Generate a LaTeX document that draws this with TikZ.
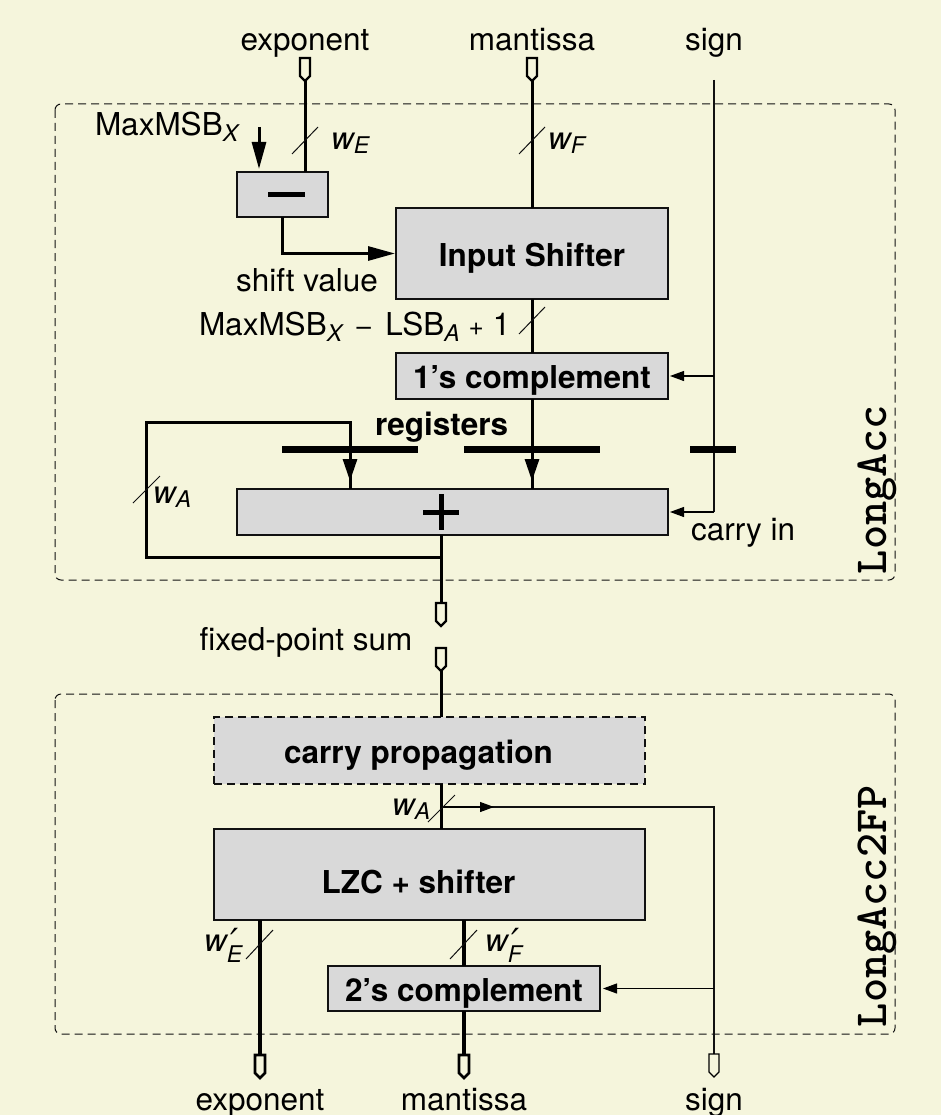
\documentclass[tikz,border=0pt]{standalone}
\usepackage{fontspec}
\setmainfont{TeX Gyre Heros}
\newfontfamily\symf{DejaVu Sans}
\usetikzlibrary{arrows.meta,calc}
\definecolor{pagebg}{HTML}{F5F5DC}
\definecolor{boxgray}{HTML}{D9D9D9}
\definecolor{inkdark}{HTML}{111111}
\newcommand{\fsz}{\fontsize{31.5}{36}\selectfont}
\newcommand{\subf}{\fontsize{23}{24}\selectfont\itshape}
\newcommand{\lowsub}[2][6pt]{\raisebox{-#1}{\subf #2}}
\newcommand{\wid}[1]{\textit{w}\kern-1.5pt\lowsub[4pt]{#1}}
\newcommand{\widp}[1]{\textit{w}\kern-1.5pt\rlap{\raisebox{-3pt}{\kern4pt\fontsize{36}{36}\selectfont\symf\itshape\char"2032}}\lowsub[11pt]{#1}}
\newcommand{\portat}[3][2.3pt]{\draw[line width=#1,fill=pagebg] (#2-5,#3) -- (#2+5,#3) -- (#2+5,#3+18) -- (#2,#3+23) -- (#2-5,#3+18) -- cycle;}
\tikzset{
  x=1pt,y=-1pt,
  txt/.style={font=\fsz,text=black,inner sep=0pt,outer sep=0pt},
  unitbox/.style={draw=inkdark,line width=2pt,fill=boxgray,inner sep=0pt,outer sep=0pt,font=\fsz\bfseries,text height=27pt,text depth=2pt},
  bus/.style={line width=3pt,draw=black},
  fatbus/.style={line width=4.5pt,draw=black},
  thinw/.style={line width=1.1pt,draw=inkdark},
  tickm/.style={line width=1pt,draw=inkdark},
  reg/.style={line width=7pt,draw=black},
  busarrow/.style={line width=3pt,-{Triangle[length=27pt,width=14pt]}},
  regarrow/.style={line width=3pt,-{Triangle[length=22pt,width=14pt]}},
  thinarrow/.style={line width=1.1pt,-{Triangle[length=14pt,width=10pt]}},
  frame/.style={draw=inkdark,line width=1pt,dash pattern=on 8pt off 5pt,rounded corners=6pt},
  tag/.style={font=\fontsize{46}{48}\selectfont\ttfamily\bfseries\addfontfeature{FakeBold=2},inner sep=0pt,outer sep=0pt,rotate=90,anchor=base west}
}
\begin{document}
\begin{tikzpicture}
\path[use as bounding box,fill=pagebg] (0,0) rectangle (941,1115);
% frames
\draw[frame] (55,104) rectangle (895,580);
\draw[frame] (55,694) rectangle (895,1034);
% boxes
\node[unitbox,minimum width=91pt,minimum height=45pt] (sub) at (282.5,194.5) {};
\node[unitbox,minimum width=272pt,minimum height=91pt] (shifter) at (532,253.5) {Input Shifter};
\node[unitbox,minimum width=272pt,minimum height=46pt] (onec) at (532,376) {1’s complement};
\node[unitbox,minimum width=431pt,minimum height=46pt] (adder) at (452.5,512) {};
\node[unitbox,minimum width=431pt,minimum height=67pt,dash pattern=on 8pt off 5pt] (carry) at (429.5,750.5) {\kern-22pt carry propagation};
\node[unitbox,minimum width=431pt,minimum height=91pt,text height=39pt] (lzc) at (429.5,874.5) {\kern-22pt LZC + shifter};
\node[unitbox,minimum width=272pt,minimum height=45pt] (twoc) at (464,988.5) {2’s complement};
% coordinates
\coordinate (pe) at (305,81);
\coordinate (pm) at (532,81);
\coordinate (ps) at (714,80);
\coordinate (mm) at (259,127);
\coordinate (sumA) at (441,603);
\coordinate (sumB) at (441,671);
\coordinate (fbA) at (441,557);
\coordinate (fbB) at (146,557);
\coordinate (fbC) at (146,422);
\coordinate (fbD) at (350,422);
\coordinate (oe) at (260,1055);
\coordinate (om) at (464,1055);
\coordinate (os) at (714,1054);
\coordinate (br) at (441,807);
\coordinate (brs) at (714,807);
% main wires
\draw[bus] (pe) -- (pe |- sub.north);
\draw[busarrow,shorten >=3pt] (mm) -- (mm |- sub.north);
\draw[busarrow,shorten >=1pt] (sub.south) |- (shifter.west);
\draw[bus] (pm) -- (pm |- shifter.north);
\draw[bus] (shifter.south) -- (onec.north);
\draw[bus] (onec.south) -- (adder.north -| onec.south);
\draw[regarrow,shorten >=8pt] (onec.south) -- (adder.north -| onec.south);
\draw[bus] (adder.south -| sumA) -- (sumA);
\draw[bus] (fbA) -- (fbB) -- (fbC) -- (fbD) -- (fbD |- adder.north);
\draw[regarrow,shorten >=8pt] (fbD) -- (fbD |- adder.north);
\draw[bus] (sumB) -- (sumB |- carry.north);
\draw[bus] (carry.south -| br) -- (lzc.north -| br);
\draw[fatbus] (lzc.south -| oe) -- (oe);
\draw[fatbus] (lzc.south -| om) -- (twoc.north);
\draw[fatbus] (twoc.south) -- (om);
% sign wires
\draw[thinw] (ps) -- (brs |- adder.east) coordinate (ca);
\draw[thinarrow,shorten >=2pt] (ps |- onec.east) -- (onec.east);
\draw[thinarrow,shorten >=2pt] (ca) -- (adder.east);
\draw[thinw] (br) -- (brs) -- (os);
\draw[thinarrow] (br) -- (494,807);
\draw[thinarrow,shorten >=3pt] (os |- twoc.east) -- (twoc.east);
% registers
\draw[reg] (282,449) -- (418,449);
\draw[reg] (464,449) -- (600,449);
\draw[reg] (690,449) -- (736,449);
% operators
\draw[line width=5pt] (268,195) -- (305,195);
\draw[line width=5pt] (423,512) -- (459,512);
\draw[line width=5pt] (441,494) -- (441,530);
% ticks
\draw[tickm] (292,154) -- (318,127);
\draw[tickm] (519,154) -- (545,127);
\draw[tickm] (519,334) -- (545,307);
\draw[tickm] (133,503) -- (160,476);
\draw[tickm] (428,822) -- (455,795);
\draw[tickm] (246,959) -- (273,930);
\draw[tickm] (450,959) -- (477,930);
% ports
\portat{305}{58}
\portat{532}{58}
\portat{441}{603}
\portat{441}{648}
\portat[2.6pt]{260}{1055}
\portat[2.6pt]{464}{1055}
\portat[1.1pt]{714}{1054}
% labels
\node[txt,anchor=base] (t1) at (305,51) {exponent};
\node[txt,anchor=base] (t2) at (532,51) {mantissa};
\node[txt,anchor=base] (t3) at (714,51) {sign};
\node[txt,anchor=base west] (t4) at (95,136) {MaxMSB\lowsub{X}};
\node[txt,anchor=base west] (t5) at (331,150) {\wid{E}};
\node[txt,anchor=base west] (t6) at (548,150) {\wid{F}};
\node[txt,anchor=base west] (t7) at (236,291) {shift value};
\node[txt,anchor=base west] (t8) at (199,335) {MaxMSB\lowsub{X}\kern12pt{\fontsize{23}{24}\selectfont\symf\char"2212}\kern12pt LSB\lowsub{A}\kern9pt{\fontsize{26}{26}\selectfont +}\kern9pt 1};
\node[txt,anchor=base west,font=\fsz\bfseries] (t9) at (375,435) {registers};
\node[txt,anchor=base west] (t10) at (691,540) {carry in};
\node[txt,anchor=base west] (t11) at (153,503) {\wid{A}};
\node[txt,anchor=base] (t12) at (306,650) {fixed-point sum};
\node[txt,anchor=base west] (t13) at (392,815) {\wid{A}};
\node[txt,anchor=base west] (t14) at (204,951) {\widp{E}};
\node[txt,anchor=base west] (t15) at (485,951) {\widp{F}};
\node[txt,anchor=base] (t16) at (260,1110) {exponent};
\node[txt,anchor=base] (t17) at (464,1110) {mantissa};
\node[txt,anchor=base] (t18) at (714,1110) {sign};
\node[tag] (t19) at (886,574) {LongAcc};
\node[tag] (t20) at (886,1027) {LongAcc2FP};
\end{tikzpicture}
\end{document}
